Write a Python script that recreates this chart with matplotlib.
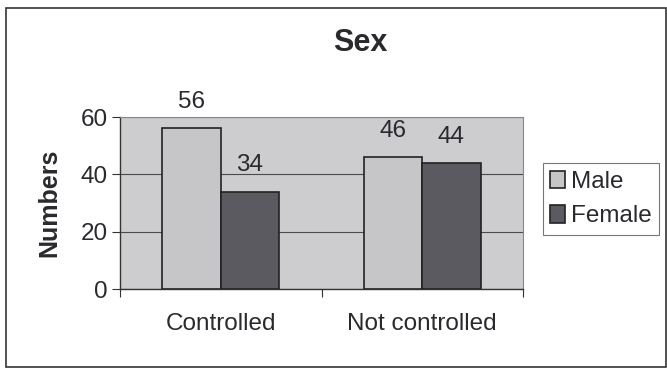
import matplotlib
matplotlib.use("Agg")
import matplotlib.pyplot as plt
import numpy as np
from matplotlib.patches import Rectangle

categories = ["Controlled", "Not controlled"]
series_names = ["Male", "Female"]
male = [56, 46]
female = [34, 44]
y_ticks = [0, 20, 40, 60]

plt.rcParams['font.family'] = ['Liberation Sans', 'DejaVu Sans']
fs = 17.5
ink = "#2a2a2e"

fig = plt.figure(figsize=(6.67, 3.70), dpi=100)
fig.patch.set_facecolor("white")

# outer chart border
fig.patches.append(Rectangle((6 / 667, 3 / 370), 660 / 667, 359 / 370,
                             transform=fig.transFigure, fill=False,
                             edgecolor="#333333", linewidth=1.2))

ax = fig.add_axes([120 / 667, (370 - 289) / 370, 403 / 667, 172 / 370])
ax.set_facecolor("#cdcdd0")

x = np.arange(len(categories))
w = 0.29
male_color = "#c6c6c8"
female_color = "#5a5a60"
b1 = ax.bar(x - w / 2, male, w, color=male_color, edgecolor="#222222",
            linewidth=1.2, label=series_names[0], zorder=3)
b2 = ax.bar(x + w / 2, female, w, color=female_color, edgecolor="#222222",
            linewidth=1.2, label=series_names[1], zorder=3)

for bars, vals in ((b1, male), (b2, female)):
    for rect, v in zip(bars, vals):
        ax.annotate(f"{v}", (rect.get_x() + rect.get_width() / 2, v),
                    xytext=(0, 11), textcoords="offset points",
                    ha="center", va="bottom", fontsize=fs, color=ink)

ax.set_xlim(-0.5, 1.5)
ax.set_ylim(0, 60)
ax.set_yticks(y_ticks)
ax.set_yticklabels([str(t) for t in y_ticks], fontsize=fs, color=ink)
ax.yaxis.grid(True, color="#4a4a4a", linewidth=0.8, zorder=1)
ax.set_axisbelow(True)

ax.set_xticks([-0.5, 0.5, 1.5])
ax.set_xticklabels([])
ax.set_xticks(x, minor=True)
ax.set_xticklabels(categories, minor=True, fontsize=fs, color=ink)
ax.tick_params(axis="x", which="minor", length=0, pad=17)
ax.tick_params(axis="x", which="major", length=6, color="#333333", direction="out")
ax.tick_params(axis="y", length=6, color="#333333", direction="out", pad=3)

for side in ("top", "right"):
    ax.spines[side].set_color("#888888")
    ax.spines[side].set_linewidth(0.8)
for side in ("left", "bottom"):
    ax.spines[side].set_color("#333333")
    ax.spines[side].set_linewidth(1.0)

ax.set_ylabel("Numbers", fontsize=18, fontweight="bold", color=ink, labelpad=14)

fig.text(360 / 667, 1 - 43 / 370, "Sex", ha="center", va="center",
         fontsize=22, fontweight="bold", color=ink)

leg = fig.legend(handles=[b1, b2], labels=series_names,
                 loc="center left", bbox_to_anchor=(543 / 667, 1 - 199 / 370),
                 fontsize=fs, frameon=True, fancybox=False, handlelength=0.6,
                 handleheight=0.75, handletextpad=0.25, borderpad=0.3,
                 borderaxespad=0, labelspacing=0.5, edgecolor="#555555")
leg.get_frame().set_linewidth(0.8)
for t in leg.get_texts():
    t.set_color(ink)

fig.savefig("out.png", dpi=100, facecolor=fig.get_facecolor())
